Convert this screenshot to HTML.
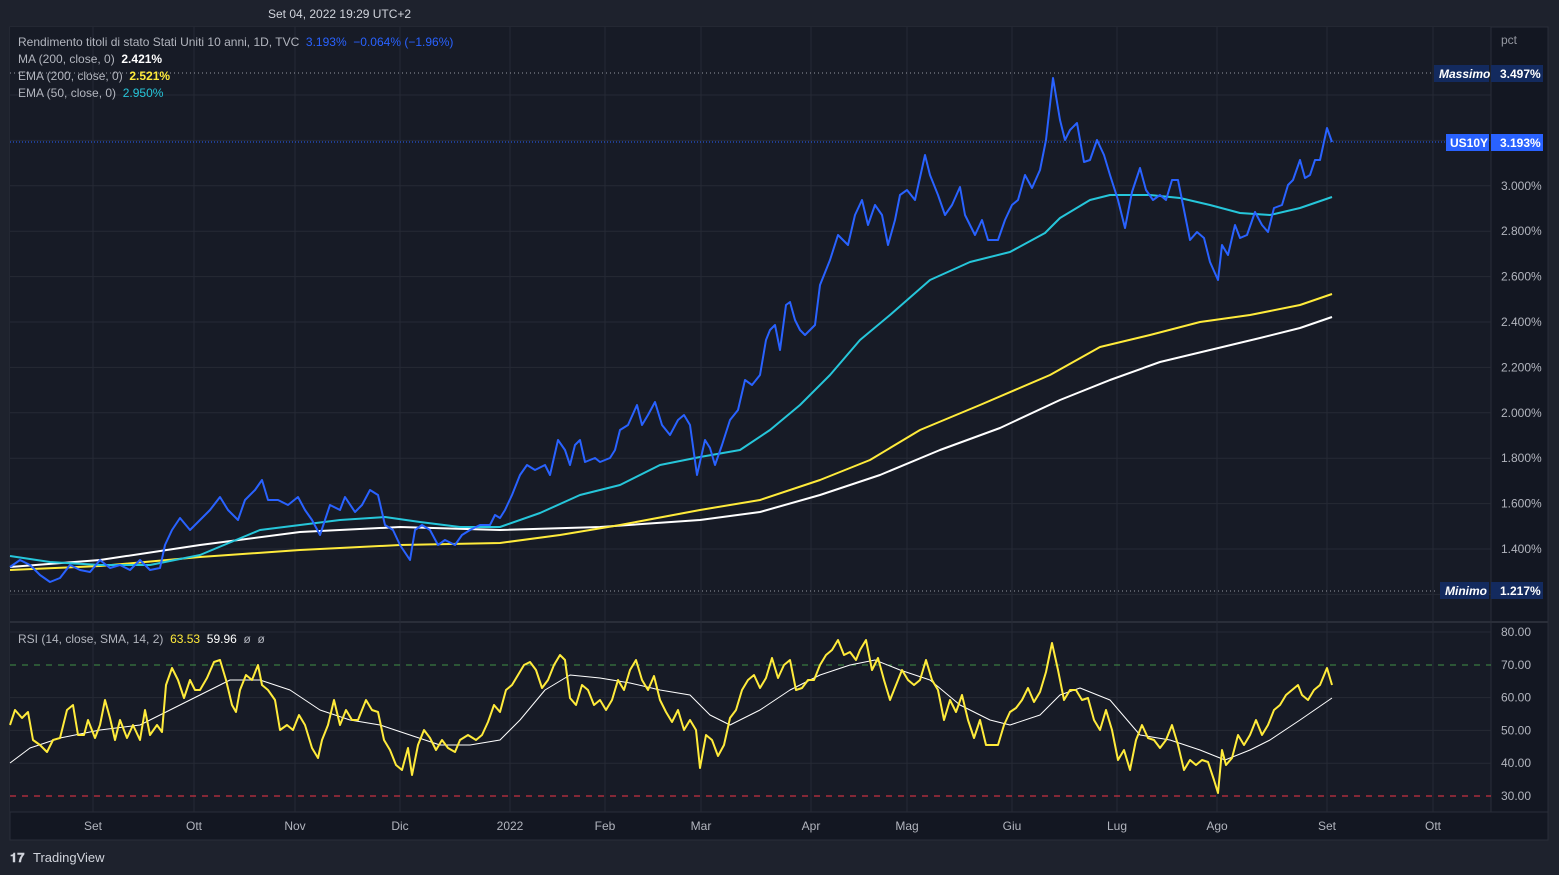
<!DOCTYPE html>
<html><head><meta charset="utf-8"><style>
body{margin:0;width:1559px;height:875px;background:#1e222d;overflow:hidden;font-family:"Liberation Sans",sans-serif;}
svg{position:absolute;left:0;top:0}
text{font-family:"Liberation Sans",sans-serif;}
</style></head><body>
<svg width="1559" height="875" xmlns="http://www.w3.org/2000/svg">
<rect x="10" y="27" width="1538" height="813" fill="#131722" stroke="#2a2e39"/>
<rect x="10" y="27" width="1481" height="785" fill="#171b26"/>
<line x1="10" y1="622" x2="1548" y2="622" stroke="#2a2e39" stroke-width="2"/>
<line x1="1491" y1="27" x2="1491" y2="812" stroke="#2a2e39"/>
<line x1="10" y1="812" x2="1548" y2="812" stroke="#2a2e39"/>
<g stroke="#262a35" stroke-width="1" id="grid"></g>
<line x1="10" y1="73" x2="1434" y2="73" stroke="#9598a1" stroke-dasharray="1,3"/>
<line x1="10" y1="591" x2="1438" y2="591" stroke="#9598a1" stroke-dasharray="1,3"/>
<line x1="10" y1="142" x2="1446" y2="142" stroke="#2962ff" stroke-dasharray="1,2"/>
<line x1="10" y1="665" x2="1491" y2="665" stroke="#4caf50" stroke-dasharray="6,6" opacity="0.8"/>
<line x1="10" y1="796" x2="1491" y2="796" stroke="#f23645" stroke-dasharray="6,6"/>
<g fill="none" stroke-linejoin="round" id="series"></g>
<g font-size="12" fill="#b2b5be" id="labels"></g>
<text x="268" y="18" font-size="12" fill="#d1d4dc">Set 04, 2022 19:29 UTC+2</text>
<text x="18" y="46" font-size="12" fill="#b2b5be">Rendimento titoli di stato Stati Uniti 10 anni, 1D, TVC <tspan fill="#2962ff">&#160;3.193%&#160; −0.064% (−1.96%)</tspan></text>
<text x="18" y="63" font-size="12" fill="#b2b5be">MA (200, close, 0) <tspan fill="#ffffff" font-weight="bold">&#160;2.421%</tspan></text>
<text x="18" y="80" font-size="12" fill="#b2b5be">EMA (200, close, 0) <tspan fill="#ffeb3b" font-weight="bold">&#160;2.521%</tspan></text>
<text x="18" y="97" font-size="12" fill="#b2b5be">EMA (50, close, 0) <tspan fill="#26c6da">&#160;2.950%</tspan></text>
<text x="18" y="643" font-size="12" fill="#b2b5be">RSI (14, close, SMA, 14, 2) <tspan fill="#ffeb3b">&#160;63.53</tspan><tspan fill="#ffffff">&#160; 59.96</tspan>&#160; ø&#160; ø</text>
<text x="1501" y="44" font-size="12" fill="#9598a1">pct</text>
<rect x="1434" y="65" width="55" height="17" fill="#132a5e"/><text x="1439" y="78" font-size="12" fill="#fff" font-style="italic" font-weight="bold">Massimo</text>
<rect x="1491" y="65" width="52" height="17" fill="#132a5e"/><text x="1500" y="78" font-size="12" fill="#fff" font-weight="bold">3.497%</text>
<rect x="1446" y="134" width="43" height="17" fill="#2962ff"/><text x="1450" y="147" font-size="12" fill="#fff" font-weight="bold">US10Y</text>
<rect x="1491" y="134" width="52" height="17" fill="#2962ff"/><text x="1500" y="147" font-size="12" fill="#fff" font-weight="bold">3.193%</text>
<rect x="1440" y="582" width="49" height="17" fill="#132a5e"/><text x="1445" y="595" font-size="12" fill="#fff" font-style="italic" font-weight="bold">Minimo</text>
<rect x="1491" y="582" width="52" height="17" fill="#132a5e"/><text x="1500" y="595" font-size="12" fill="#fff" font-weight="bold">1.217%</text>
<text x="10" y="862" font-size="13" fill="#d1d4dc" font-weight="bold">𝟏𝟕</text>
<text x="33" y="862" font-size="13" fill="#d1d4dc">TradingView</text>
</svg>
<script>
const ns="http://www.w3.org/2000/svg";
function el(p,t,a,txt){const e=document.createElementNS(ns,t);for(const k in a)e.setAttribute(k,a[k]);if(txt)e.textContent=txt;document.getElementById(p).appendChild(e);}
const months=[[93,"Set"],[194,"Ott"],[295,"Nov"],[400,"Dic"],[510,"2022"],[605,"Feb"],[701,"Mar"],[811,"Apr"],[907,"Mag"],[1012,"Giu"],[1117,"Lug"],[1217,"Ago"],[1327,"Set"],[1433,"Ott"]];
months.forEach(([x,t])=>{el("grid","line",{x1:x,y1:27,x2:x,y2:812});el("labels","text",{x:x,y:830,"text-anchor":"middle",fill:"#b2b5be"},t);});
for(let k=-1;k<=10;k++){const v=1.4+k*0.2,y=549-k*45.4;if(y<30||y>620)continue;el("grid","line",{x1:10,y1:y,x2:1491,y2:y});if(k>=0&&k<=9&&y>60)el("labels","text",{x:1501,y:y+4,fill:"#b2b5be"},v.toFixed(3)+"%");}
for(let v=30;v<=80;v+=10){const y=796-(v-30)*3.28;if(v!=30&&v!=70)el("grid","line",{x1:10,y1:y,x2:1491,y2:y});el("labels","text",{x:1501,y:y+4,fill:"#b2b5be"},v.toFixed(2));}
function P(a){return "M"+a.map(p=>p.join(",")).join("L");}
const blue=[[10,567],[20,560],[30,565],[40,575],[50,582],[60,578],[70,565],[80,570],[90,572],[100,560],[110,568],[120,565],[130,570],[140,560],[150,570],[160,568],[165,545],[172,530],[180,518],[190,530],[200,520],[210,510],[220,497],[228,510],[238,520],[245,500],[255,490],[262,480],[268,500],[278,500],[288,505],[298,497],[305,510],[312,520],[320,535],[330,505],[340,510],[345,497],[355,512],[362,505],[370,490],[378,495],[385,525],[393,530],[400,545],[410,560],[415,530],[422,525],[430,530],[438,545],[445,540],[455,545],[462,535],[470,530],[480,525],[490,525],[495,515],[500,518],[505,510],[512,495],[520,475],[527,465],[535,470],[545,465],[550,475],[558,440],[565,450],[570,465],[575,445],[580,440],[585,462],[595,458],[600,462],[610,458],[615,450],[620,430],[628,425],[637,405],[642,425],[648,415],[655,402],[662,425],[670,435],[678,420],[684,415],[690,425],[697,475],[705,440],[710,448],[715,465],[722,445],[730,420],[738,410],[745,380],[752,385],[760,375],[766,340],[770,330],[775,325],[780,350],[786,305],[790,302],[795,320],[800,330],[805,335],[815,325],[820,285],[830,260],[838,235],[848,245],[855,215],[862,200],[868,225],[875,205],[882,215],[888,245],[895,220],[900,195],[907,190],[915,200],[925,155],[930,175],[938,195],[945,215],[952,205],[960,187],[965,215],[975,235],[982,220],[988,240],[998,240],[1005,220],[1012,205],[1018,200],[1025,175],[1032,188],[1040,170],[1046,140],[1053,78],[1060,120],[1065,140],[1070,130],[1077,123],[1084,162],[1090,160],[1097,140],[1104,155],[1110,175],[1118,200],[1125,228],[1132,192],[1140,168],[1146,190],[1153,200],[1160,195],[1166,200],[1172,180],[1178,180],[1185,215],[1190,240],[1197,232],[1204,238],[1210,262],[1218,280],[1222,245],[1228,255],[1235,225],[1240,238],[1247,235],[1255,212],[1262,225],[1268,232],[1274,208],[1282,205],[1288,185],[1293,180],[1300,160],[1305,178],[1310,175],[1315,160],[1320,160],[1327,128],[1332,142]];
const cyan=[[10,556],[50,562],[100,565],[150,565],[200,555],[260,530],[300,525],[340,520],[385,517],[420,522],[460,527],[500,527],[540,513],[580,495],[620,485],[660,465],[700,457],[740,450],[770,430],[800,405],[830,375],[860,340],[890,315],[930,280],[970,262],[1010,252],[1045,233],[1060,218],[1090,200],[1110,195],[1150,195],[1180,198],[1210,205],[1240,213],[1270,215],[1300,208],[1332,197]];
const yel=[[10,570],[100,566],[200,557],[300,550],[400,545],[500,543],[560,535],[620,525],[700,510],[760,500],[820,480],[870,460],[920,430],[980,405],[1050,375],[1100,347],[1150,335],[1200,322],[1250,315],[1300,305],[1332,294]];
const wht=[[10,567],[100,560],[200,545],[300,532],[400,527],[500,530],[600,527],[700,520],[760,512],[820,495],[880,475],[940,450],[1000,428],[1060,400],[1110,380],[1160,362],[1210,350],[1260,338],[1300,328],[1332,317]];
const rsi=[[10,725],[15,710],[22,718],[28,712],[33,740],[40,745],[47,752],[53,740],[60,738],[67,710],[73,705],[78,735],[84,735],[88,720],[95,738],[100,725],[105,700],[110,718],[115,740],[120,720],[127,738],[133,725],[140,740],[145,710],[150,735],[157,725],[162,732],[166,685],[172,668],[178,680],[184,698],[190,680],[195,690],[200,690],[207,678],[214,662],[220,660],[226,680],[232,705],[236,712],[240,690],[246,675],[252,680],[258,665],[262,685],[268,690],[275,700],[280,730],[287,725],[293,730],[299,715],[305,725],[312,748],[318,758],[322,740],[328,725],[334,700],[340,725],[346,710],[352,720],[358,720],[366,700],[372,710],[378,712],[384,740],[390,750],[396,765],[402,770],[408,748],[412,775],[418,745],[424,730],[430,738],[436,750],[442,740],[448,748],[455,752],[460,740],[468,735],[476,740],[482,735],[488,722],[494,705],[500,712],[506,690],[512,685],[518,675],[524,665],[530,662],[536,670],[542,688],[548,680],[554,665],[560,655],[565,660],[570,698],[576,705],[582,685],[588,690],[594,705],[600,700],[606,710],[612,700],[618,680],[624,690],[630,670],[636,660],[642,680],[648,690],[654,676],[660,700],[666,712],[672,722],[678,710],[684,730],[690,720],[696,730],[700,768],[706,735],[712,740],[718,756],[724,745],[730,718],[736,710],[742,690],[748,680],[754,675],[760,688],[766,678],[772,658],[778,678],[784,665],[790,660],[796,690],[802,688],[808,680],[814,680],[820,665],[826,655],[832,650],[838,640],[844,655],[850,652],[856,660],[860,650],[866,640],[872,670],[878,658],[884,680],[890,700],[896,685],[902,670],[908,680],[914,685],[920,680],[926,660],[932,680],[938,690],[944,720],[950,700],[956,712],[962,695],[968,720],[974,738],[980,720],[986,745],[992,745],[998,745],[1004,725],[1010,712],[1016,708],[1022,700],[1028,688],[1034,702],[1040,692],[1046,672],[1052,643],[1058,670],[1064,700],[1070,690],[1076,690],[1082,700],[1088,698],[1094,720],[1100,730],[1106,710],[1112,730],[1118,760],[1124,750],[1130,770],[1136,740],[1142,725],[1148,738],[1154,740],[1160,748],[1166,740],[1172,725],[1178,745],[1184,770],[1190,760],[1196,765],[1202,760],[1208,762],[1214,780],[1218,793],[1222,750],[1226,765],[1232,758],[1238,735],[1244,745],[1250,735],[1256,720],[1262,735],[1268,725],[1274,710],[1280,705],[1286,695],[1292,690],[1298,685],[1302,695],[1308,700],[1314,690],[1320,685],[1327,668],[1332,685]];
const rma=[[10,763],[30,748],[60,738],[100,730],[140,725],[170,710],[200,695],[230,680],[260,680],[290,690],[320,710],[350,720],[380,725],[410,735],[440,745],[470,745],[500,740],[520,720],[545,690],[570,675],[600,678],[630,683],[660,690],[690,695],[710,715],[730,725],[760,710],[790,690],[820,675],[850,665],[875,660],[900,670],[930,680],[960,705],[990,720],[1010,725],[1040,715],[1060,695],[1080,688],[1110,700],[1140,735],[1170,740],[1200,750],[1225,760],[1250,750],[1270,740],[1300,720],[1332,698]];
el("series","path",{d:P(wht),stroke:"#ffffff","stroke-width":2});
el("series","path",{d:P(yel),stroke:"#ffeb3b","stroke-width":2});
el("series","path",{d:P(cyan),stroke:"#26c6da","stroke-width":2});
el("series","path",{d:P(blue),stroke:"#2962ff","stroke-width":2});
el("series","path",{d:P(rma),stroke:"#ffffff","stroke-width":1});
el("series","path",{d:P(rsi),stroke:"#ffeb3b","stroke-width":2});
</script>
</body></html>
